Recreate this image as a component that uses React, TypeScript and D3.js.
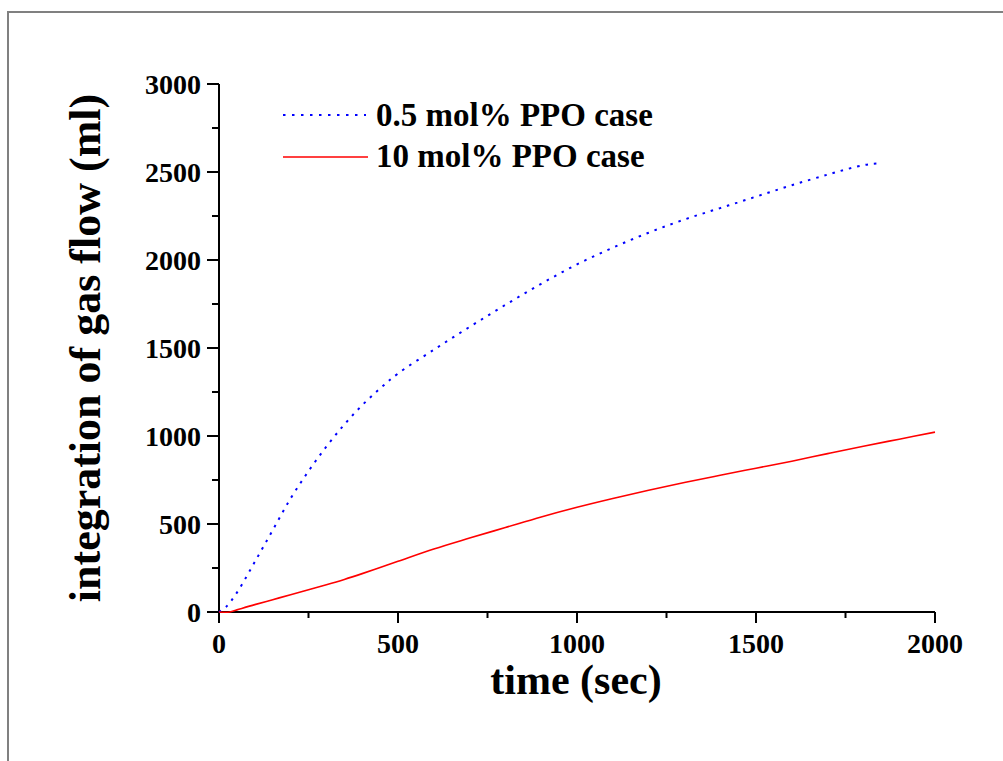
import React from "react";
import * as d3 from "d3";

const timeBlue = [0, 20, 50, 100, 150, 200, 250, 300, 350, 400, 450, 500, 600, 700, 800, 900, 1000, 1100, 1200, 1300, 1400, 1500, 1600, 1700, 1780, 1820, 1840];
const flowBlue = [0, 30, 110, 285, 465, 645, 800, 940, 1065, 1175, 1270, 1355, 1490, 1620, 1745, 1865, 1975, 2070, 2155, 2230, 2295, 2360, 2425, 2485, 2530, 2545, 2548];

const timeRed = [0, 30, 50, 100, 150, 200, 250, 300, 350, 400, 450, 500, 600, 700, 800, 900, 1000, 1100, 1200, 1300, 1400, 1500, 1600, 1700, 1800, 1900, 2000];
const flowRed = [0, 0, 12, 42, 70, 98, 127, 155, 185, 218, 253, 288, 358, 420, 480, 540, 595, 645, 692, 736, 777, 817, 857, 900, 942, 982, 1022];

const xMajor = [0, 500, 1000, 1500, 2000];
const xMinor = [250, 750, 1250, 1750];
const yMajor = [0, 500, 1000, 1500, 2000, 2500, 3000];
const yMinor = [250, 750, 1250, 1750, 2250, 2750];

const seriesNames = ["0.5 mol% PPO case", "10 mol% PPO case"];

export default function App() {
  const x = d3.scaleLinear().domain([0, 2000]).range([219, 935]);
  const y = d3.scaleLinear().domain([0, 3000]).range([612, 84]);
  const line = d3
    .line<[number, number]>()
    .x((d) => x(d[0]))
    .y((d) => y(d[1]))
    .curve(d3.curveCatmullRom.alpha(0.5));
  const blue = line(timeBlue.map((t, i) => [t, flowBlue[i]]) as [number, number][]) || "";
  const red = line(timeRed.map((t, i) => [t, flowRed[i]]) as [number, number][]) || "";
  const font = "'Liberation Serif', 'Times New Roman', serif";
  const x0 = x(0);
  const y0 = y(0);
  return (
    <svg
      width={1003}
      height={761}
      style={{ position: "absolute", left: 0, top: 0, background: "#fff" }}
      fontFamily={font}
      fontWeight="bold"
    >
      <rect x={0} y={0} width={1003} height={761} fill="#fff" />
      <rect x={8} y={12} width={1100} height={900} fill="none" stroke="#808080" strokeWidth={2} />
      {/* axes */}
      <line x1={x0} x2={x0} y1={y(0)} y2={y(3000)} stroke="#000" strokeWidth={2} />
      <line x1={x(0)} x2={x(2000)} y1={y0} y2={y0} stroke="#000" strokeWidth={2} />
      {xMajor.map((v) => (
        <g key={"xm" + v}>
          <line x1={x(v)} x2={x(v)} y1={y0} y2={y0 + 11} stroke="#000" strokeWidth={2} />
          <text x={x(v)} y={653} fontSize={28} textAnchor="middle">{v}</text>
        </g>
      ))}
      {xMinor.map((v) => (
        <line key={"xn" + v} x1={x(v)} x2={x(v)} y1={y0} y2={y0 + 6} stroke="#000" strokeWidth={2} />
      ))}
      {yMajor.map((v) => (
        <g key={"ym" + v}>
          <line x1={x0 - 12} x2={x0} y1={y(v)} y2={y(v)} stroke="#000" strokeWidth={2} />
          <text x={201} y={y(v) + 10} fontSize={28} textAnchor="end">{v}</text>
        </g>
      ))}
      {yMinor.map((v) => (
        <line key={"yn" + v} x1={x0 - 7} x2={x0} y1={y(v)} y2={y(v)} stroke="#000" strokeWidth={2} />
      ))}
      {/* curves */}
      <path d={blue} fill="none" stroke="#0000ff" strokeWidth={2} strokeDasharray="2.5,6" />
      <path d={red} fill="none" stroke="#ff0000" strokeWidth={1.6} />
      {/* legend */}
      <line x1={283} x2={366} y1={115} y2={115} stroke="#0000ff" strokeWidth={2} strokeDasharray="2.5,6.5" />
      <text x={376} y={126} fontSize={33}>{seriesNames[0]}</text>
      <line x1={283} x2={368} y1={157} y2={157} stroke="#ff0000" strokeWidth={1.6} />
      <text x={376} y={167} fontSize={33}>{seriesNames[1]}</text>
      {/* titles */}
      <text x={576} y={694} fontSize={42} textAnchor="middle">time (sec)</text>
      <text transform="translate(100,348) rotate(-90)" fontSize={44} textAnchor="middle">
        integration of gas flow (ml)
      </text>
    </svg>
  );
}
